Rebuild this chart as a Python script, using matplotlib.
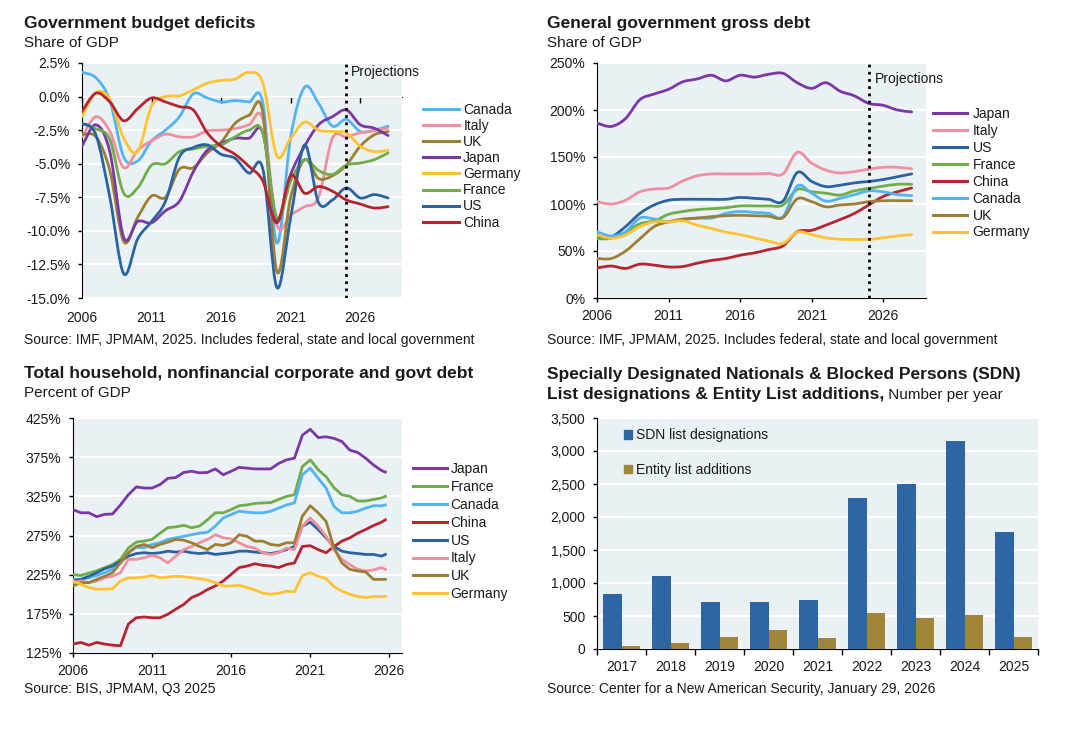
import numpy as np
import matplotlib
matplotlib.use("Agg")
import matplotlib.pyplot as plt
from matplotlib.path import Path
from matplotlib.patches import PathPatch, Patch
from matplotlib.lines import Line2D
from matplotlib.ticker import FuncFormatter

plt.rcParams['font.family'] = ['Liberation Sans', 'DejaVu Sans']
plt.rcParams['axes.unicode_minus'] = False

# ---------------- data ----------------
# Panel 1: government budget balance, % of GDP (IMF, annual, 2006-2028)
imf_years = list(range(2006, 2029))
deficit_canada = [1.8, 1.4, -0.3, -4.5, -4.8, -3.3, -2.5, -1.5, 0.2, -0.1, -0.4, -0.3, -0.4, -0.5, -10.9, -3.0, 0.7, -0.5, -2.2, -1.7, -2.6, -2.5, -2.2]
deficit_italy = [-3.0, -1.5, -2.6, -5.3, -4.0, -3.3, -2.8, -3.0, -3.0, -2.55, -2.5, -2.4, -2.1, -1.7, -9.5, -8.8, -8.2, -7.5, -3.1, -3.0, -2.7, -2.55, -2.35]
deficit_uk = [-2.85, -3.0, -5.5, -10.8, -9.0, -7.4, -7.5, -5.4, -5.3, -4.2, -3.4, -2.0, -1.4, -1.2, -13.0, -7.5, -4.7, -6.1, -5.9, -5.1, -3.7, -2.85, -2.6]
deficit_japan = [-3.7, -2.1, -4.1, -10.5, -9.3, -9.4, -8.5, -7.8, -5.6, -4.0, -3.5, -3.1, -3.1, -2.7, -9.2, -5.8, -3.7, -2.1, -1.5, -1.0, -2.1, -2.35, -2.9]
deficit_germany = [-1.5, 0.3, -0.2, -3.1, -4.1, -0.7, 0.0, 0.05, 0.5, 1.0, 1.2, 1.3, 1.8, 1.0, -4.4, -3.1, -1.9, -2.5, -2.6, -2.7, -3.7, -4.1, -4.0]
deficit_france = [-2.0, -2.4, -3.2, -7.2, -6.8, -5.1, -5.0, -4.1, -3.9, -3.7, -3.6, -3.0, -2.5, -2.7, -9.0, -6.3, -4.7, -5.5, -5.8, -5.1, -4.95, -4.7, -4.2]
deficit_us = [-2.0, -2.85, -7.5, -13.2, -10.6, -9.3, -7.8, -4.5, -3.8, -3.6, -4.3, -4.6, -5.7, -5.4, -14.2, -9.0, -3.6, -7.9, -7.7, -6.8, -7.55, -7.3, -7.55]
deficit_china = [-1.1, 0.25, -0.4, -1.8, -0.9, -0.1, -0.4, -0.75, -1.0, -2.7, -3.7, -4.3, -5.2, -6.3, -9.4, -5.9, -7.2, -6.7, -7.05, -7.7, -8.0, -8.3, -8.2]

# Panel 2: general government gross debt, % of GDP (IMF, annual, 2006-2028)
debt_japan = [186, 182.5, 191, 211, 217, 222, 230, 233, 237, 231, 237, 235, 238, 239, 229, 223, 229, 220, 215, 207, 205, 200, 198]
debt_italy = [102.5, 100, 104, 113, 116, 117, 124.5, 130, 132, 132, 132, 132, 132.5, 132, 155, 143.5, 136, 133, 134.5, 137, 139, 139, 137.5]
debt_us = [64, 65, 76, 90, 99, 104, 105, 105, 105, 105, 107, 106, 105, 103, 133.5, 124, 118.5, 120, 122.5, 124, 126, 129, 132]
debt_france = [63, 63.5, 70, 79, 82, 89, 92, 94, 95, 96, 98, 98, 98, 99, 115.5, 113, 111.5, 109.5, 114, 116.5, 119, 121, 121]
debt_china = [32, 34, 31.5, 36, 35, 33, 33.5, 37, 40, 42, 45.5, 48, 51.5, 55.5, 70.5, 72, 77.5, 83.5, 90, 99, 108, 113, 117]
debt_canada = [70.5, 66, 70.5, 85, 84, 81, 83, 85, 85, 90, 92, 91, 90, 86.5, 119, 111.5, 103, 106, 110, 114, 113, 110, 109]
debt_uk = [42, 42, 50, 63, 76, 81, 84, 85, 86.5, 87.5, 88, 87.5, 87, 85.5, 105.5, 102.5, 97, 99, 100, 102.5, 103.5, 103.5, 103.5]
debt_germany = [67, 63.5, 67, 76, 81, 81, 82, 77.5, 74, 70, 67.5, 64, 60.5, 58, 70, 67.5, 64, 62.5, 62.3, 62.3, 64, 66, 67.5]

# Panel 3: total non-financial debt, % of GDP (BIS, half-yearly readings to Q3 2025)
bis_time = [2006.0 + 0.5 * i for i in range(40)] + [2025.75]
total_japan = [308, 304, 304, 299, 302, 302.5, 314, 327, 337, 335.6, 335.6, 340, 348, 349, 355.5, 357, 355, 355.5, 360, 352.5, 357, 362, 361, 360, 360, 360, 367, 371.6, 373.7, 403, 410.6, 400, 401, 399, 395, 384, 381, 373.7, 365, 358, 356]
total_france = [225, 224, 227, 230, 234, 238, 244.5, 259, 266.5, 268, 270, 278, 285, 286, 288, 285, 287, 295, 304, 304, 308, 313, 314, 316, 316.5, 317, 321, 325, 327, 363, 371.6, 359, 350, 336, 327, 325, 319, 319, 321, 323, 325]
total_canada = [219, 219, 221, 224, 227.5, 232, 240, 253, 260, 259.5, 263.6, 265.7, 270, 272, 274, 276, 278, 279, 287, 297.5, 301.7, 306, 304.7, 304, 304, 306, 310, 314, 316.5, 352.5, 361, 348, 335.6, 312, 304, 304, 306, 310, 313, 313, 314]
total_china = [136.4, 138.5, 135, 138.5, 136.4, 135, 134.3, 162, 170, 171, 170, 170, 174.5, 181, 187, 195.8, 200, 206, 210.6, 217, 225.4, 234, 236, 239, 236.9, 236, 234, 238, 240, 261, 262, 257, 253, 261, 267.8, 272, 278, 282.6, 287.7, 292, 295]
total_us = [217, 219, 223, 227.5, 232.6, 236, 242, 248.7, 252, 253, 252, 253, 255, 253.8, 255, 253, 252, 253, 250.8, 252, 253, 255, 255, 253.8, 253, 252, 253.8, 257, 261, 287, 292, 282.6, 272, 261, 255, 253, 252, 250.8, 250.8, 248.7, 250.8]
total_italy = [214.8, 217, 214.8, 217, 221, 223, 227.5, 244.5, 244.5, 246.6, 249.6, 246.6, 240, 248.7, 257, 261, 265.7, 270, 276, 272, 270.8, 265.7, 261, 259, 253, 250.8, 253, 259, 257, 287, 297.5, 287, 274, 257, 244.5, 238, 231.8, 229.7, 231, 234, 231.8]
total_uk = [210.6, 214.8, 214.8, 219, 223, 227.5, 240, 253, 261, 263.6, 259.3, 263.6, 266.5, 270, 269, 265.7, 261, 257, 263.6, 262.3, 265.7, 276, 274, 267.8, 267.8, 263.6, 262.3, 265.7, 265.7, 299.6, 313, 304, 293, 259.3, 240, 231.8, 229.7, 228.4, 219, 219, 219]
total_germany = [217, 212.7, 208.5, 206.4, 206.4, 207, 217, 221, 221, 222, 224, 221, 222, 223, 222.5, 221, 220, 218, 214.8, 210.6, 210.6, 211.4, 208.5, 205.5, 201.3, 200, 201.3, 204, 203, 224, 227.5, 223, 220, 209.7, 204, 200, 197, 195.8, 197, 197, 197]

# Panel 4: sanctions designations per year
sdn_years = ['2017', '2018', '2019', '2020', '2021', '2022', '2023', '2024', '2025']
sdn_designations = [840, 1105, 705, 705, 745, 2290, 2500, 3150, 1770]
entity_additions = [40, 95, 175, 290, 160, 540, 470, 520, 175]

# ---------------- style ----------------
COL = {
    'Canada': '#50B4F5', 'Italy': '#F0909F', 'UK': '#9C7F32', 'Japan': '#7A38A6',
    'Germany': '#FFC232', 'France': '#70AD48', 'US': '#2B63A0', 'China': '#B7242F',
}
BG = '#E9F1F5'
TXT = '#1A1A1A'
LW = 2.0
W, H = 1080, 744

fig = plt.figure(figsize=(W / 100, H / 100), dpi=100)


def px_axes(left, top, right, bottom):
    return fig.add_axes([left / W, 1 - bottom / H, (right - left) / W, (bottom - top) / H])


def fig_text(x, y, s, **kw):
    return fig.text(x / W, 1 - y / H, s, va='baseline', color=TXT, **kw)


def base_style(ax):
    ax.set_facecolor(BG)
    for side in ('top', 'right'):
        ax.spines[side].set_visible(False)
    ax.spines['left'].set_color('black')
    ax.spines['bottom'].set_color('black')
    ax.yaxis.grid(True, color='white', lw=1.6)
    ax.set_axisbelow(True)
    ax.tick_params(axis='y', direction='out', length=3, width=1, pad=5.5,
                   labelsize=10, labelcolor=TXT)
    ax.tick_params(axis='x', direction='out', length=3, width=1, pad=5,
                   labelsize=10, labelcolor=TXT)


def smooth_path(x, y):
    # Excel-style smoothed line: cubic Bezier segments through the data points
    pts = np.column_stack([x, y]).astype(float)
    n = len(pts)
    verts = [pts[0]]
    codes = [Path.MOVETO]
    for i in range(n - 1):
        p0 = pts[max(i - 1, 0)]
        p1 = pts[i]
        p2 = pts[i + 1]
        p3 = pts[min(i + 2, n - 1)]
        verts += [p1 + (p2 - p0) / 6, p2 - (p3 - p1) / 6, p2]
        codes += [Path.CURVE4] * 3
    return Path(verts, codes)


def line_legend(ax, names, x, y, spacing, hlen, pad):
    handles = [Line2D([], [], color=COL[n], lw=2.2) for n in names]
    ax.legend(handles, names, loc='upper left', bbox_to_anchor=(x / W, 1 - y / H),
              bbox_transform=fig.transFigure, frameon=False, fontsize=10,
              handlelength=hlen, handletextpad=pad, labelspacing=spacing,
              borderpad=0, borderaxespad=0, labelcolor=TXT)


# ---------------- panel 1 ----------------
ax1 = px_axes(82, 63, 402, 298)
base_style(ax1)
p1_series = [('Canada', deficit_canada), ('Italy', deficit_italy), ('UK', deficit_uk),
             ('Japan', deficit_japan), ('Germany', deficit_germany), ('France', deficit_france),
             ('US', deficit_us), ('China', deficit_china)]
for name, vals in p1_series:
    ax1.add_patch(PathPatch(smooth_path(imf_years, vals), fill=False,
                            edgecolor=COL[name], lw=LW, zorder=3, capstyle='round'))
ax1.set_xlim(2006, 2029)
ax1.set_ylim(-15, 2.5)
ax1.set_yticks(np.arange(-15, 2.6, 2.5))
ax1.yaxis.set_major_formatter(FuncFormatter(lambda v, p: f"{v:.1f}%"))
ax1.set_xticks([2006, 2011, 2016, 2021, 2026])
ax1.spines['bottom'].set_visible(False)
ax1.tick_params(axis='x', length=0, pad=9)
# x axis line crosses at zero, labels stay at the bottom
zero_axis = ax1.secondary_xaxis(0, transform=ax1.transData)
zero_axis.set_xticks([2006, 2011, 2016, 2021, 2026], labels=[])
zero_axis.tick_params(direction='out', length=4, width=1, color='black')
zero_axis.spines['bottom'].set_color('black')
ax1.axvline(2025, color='black', ls=(0, (1, 1.6)), lw=2, zorder=4)
ax1.text(2025.35, 1.85, 'Projections', fontsize=10, color=TXT, va='center')
line_legend(ax1, [n for n, _ in p1_series], 423, 103, 0.15, 2.6, 0.3)

fig_text(24, 28, 'Government budget deficits', fontsize=12.5, fontweight='bold')
fig_text(24, 47, 'Share of GDP', fontsize=11)
fig_text(24, 344, 'Source: IMF, JPMAM, 2025. Includes federal, state and local government', fontsize=10)

# ---------------- panel 2 ----------------
ax2 = px_axes(597, 63, 926, 298)
base_style(ax2)
p2_series = [('Japan', debt_japan), ('Italy', debt_italy), ('US', debt_us),
             ('France', debt_france), ('China', debt_china), ('Canada', debt_canada),
             ('UK', debt_uk), ('Germany', debt_germany)]
for name, vals in p2_series:
    ax2.add_patch(PathPatch(smooth_path(imf_years, vals), fill=False,
                            edgecolor=COL[name], lw=LW, zorder=3, capstyle='round'))
ax2.set_xlim(2006, 2029)
ax2.set_ylim(0, 250)
ax2.set_yticks(np.arange(0, 251, 50))
ax2.yaxis.set_major_formatter(FuncFormatter(lambda v, p: f"{v:.0f}%"))
ax2.set_xticks([2006, 2011, 2016, 2021, 2026])
ax2.axvline(2025, color='black', ls=(0, (1, 1.6)), lw=2, zorder=4)
ax2.text(2025.4, 233, 'Projections', fontsize=10, color=TXT, va='center')
line_legend(ax2, [n for n, _ in p2_series], 933, 107, 0.21, 2.45, 0.4)

fig_text(547, 28, 'General government gross debt', fontsize=12.5, fontweight='bold')
fig_text(547, 47, 'Share of GDP', fontsize=11)
fig_text(547, 344, 'Source: IMF, JPMAM, 2025. Includes federal, state and local government', fontsize=10)

# ---------------- panel 3 ----------------
ax3 = px_axes(73, 418, 402, 653)
base_style(ax3)
p3_series = [('Japan', total_japan), ('France', total_france), ('Canada', total_canada),
             ('China', total_china), ('US', total_us), ('Italy', total_italy),
             ('UK', total_uk), ('Germany', total_germany)]
for name, vals in p3_series:
    ax3.plot(bis_time, vals, color=COL[name], lw=LW, zorder=3, solid_joinstyle='round')
ax3.set_xlim(2006, 2026.8)
ax3.set_ylim(125, 425)
ax3.set_yticks(np.arange(125, 426, 50))
ax3.yaxis.set_major_formatter(FuncFormatter(lambda v, p: f"{v:.0f}%"))
ax3.set_xticks([2006, 2011, 2016, 2021, 2026])
line_legend(ax3, [n for n, _ in p3_series], 413, 462, 0.28, 2.45, 0.25)

fig_text(24, 378, 'Total household, nonfinancial corporate and govt debt', fontsize=12.5, fontweight='bold')
fig_text(24, 397, 'Percent of GDP', fontsize=11)
fig_text(24, 693, 'Source: BIS, JPMAM, Q3 2025', fontsize=10)

# ---------------- panel 4 ----------------
ax4 = px_axes(597, 418, 1038, 649)
base_style(ax4)
xpos = np.arange(len(sdn_years))
bw = 0.385
ax4.bar(xpos - bw / 2, sdn_designations, width=bw, color='#2E66A3', zorder=3)
ax4.bar(xpos + bw / 2, entity_additions, width=bw, color='#A08539', zorder=3)
ax4.set_xlim(-0.5, len(sdn_years) - 0.5)
ax4.set_ylim(0, 3500)
ax4.set_yticks(np.arange(0, 3501, 500))
ax4.yaxis.set_major_formatter(FuncFormatter(lambda v, p: f"{v:,.0f}"))
ax4.set_xticks(xpos, labels=sdn_years)
ax4.set_xticks(np.arange(-0.5, len(sdn_years)), minor=True)
ax4.tick_params(axis='x', which='major', length=0, pad=8)
ax4.tick_params(axis='x', which='minor', length=4, width=1, direction='out')
bar_handles = [Patch(color='#2E66A3'), Patch(color='#A08539')]
ax4.legend(bar_handles, ['SDN list designations', 'Entity list additions'],
           loc='upper left', bbox_to_anchor=(624 / W, 1 - 428 / H),
           bbox_transform=fig.transFigure, frameon=False, fontsize=10,
           handlelength=0.6, handleheight=0.6, handletextpad=0.3,
           labelspacing=1.5, borderpad=0, borderaxespad=0, labelcolor=TXT)

fig_text(547, 379, 'Specially Designated Nationals & Blocked Persons (SDN)', fontsize=12.5, fontweight='bold')
bold2 = fig_text(547, 399, 'List designations & Entity List additions,', fontsize=12.5, fontweight='bold')
ax4.annotate(' Number per year', xy=(1, 0), xycoords=bold2, fontsize=11, color=TXT,
             va='bottom', ha='left', annotation_clip=False)
fig_text(547, 693, 'Source: Center for a New American Security, January 29, 2026', fontsize=10)

fig.savefig('out.png', dpi=100, facecolor='white')
